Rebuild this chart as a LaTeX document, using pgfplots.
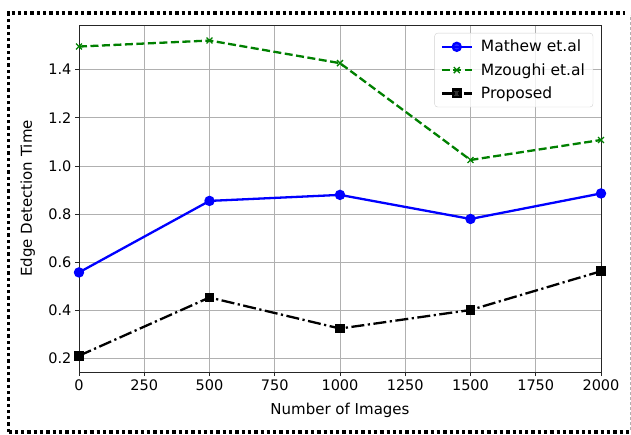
\documentclass[border=0pt]{standalone}
\usepackage{fontspec}
\setmainfont{DejaVu Sans}
\usepackage{pgfplots}
\pgfplotsset{compat=1.18}
\definecolor{mplblue}{RGB}{0,0,255}
\definecolor{mplgreen}{RGB}{0,128,0}
\definecolor{gridgray}{RGB}{176,176,176}
\begin{document}
\begin{tikzpicture}
\useasboundingbox (0pt,0pt) rectangle (631pt,434pt);
\draw[line width=3.3pt, dash pattern=on 3.3pt off 3pt] (8.5pt,2pt) -- (8.5pt,421pt) -- (625pt,421pt);
\draw[line width=3.3pt, dash pattern=on 3.3pt off 3pt] (8.5pt,2pt) -- (631pt,2pt);
\draw[gray!60, line width=0.8pt, dash pattern=on 3pt off 2pt] (630pt,4pt) -- (630pt,419pt);
\begin{axis}[
  at={(79pt,62pt)}, anchor=south west,
  scale only axis, width=522pt, height=347pt,
  xmin=0, xmax=2000, ymin=0.1445, ymax=1.5855,
  xtick={0,250,...,2000},
  ytick={0.2,0.4,...,1.41},
  /pgf/number format/assume math mode=true,
  x tick label style={/pgf/number format/.cd, set thousands separator={}, fixed},
  y tick label style={/pgf/number format/.cd, fixed, fixed zerofill, precision=1},
  tick label style={font=\fontsize{14.5}{16}\selectfont},
  grid=major,
  major grid style={gridgray, line width=0.8pt},
  axis line style={black!85, line width=0.9pt},
  tick style={black!85, line width=0.9pt},
  tick align=outside, major tick length=4pt,
  xtick pos=bottom, ytick pos=left,
  xlabel={Number of Images},
  ylabel={Edge Detection Time},
  every axis x label/.style={at={(axis description cs:0.5,-0.11)}, anchor=center, font=\fontsize{15}{17}\selectfont},
  every axis y label/.style={at={(axis description cs:-0.098,0.5)}, rotate=90, anchor=center, font=\fontsize{15}{17}\selectfont},
  legend style={at={(axis description cs:0.985,0.977)}, anchor=north east,
    draw=gray!35, rounded corners=3pt, fill=white, fill opacity=0.8, text opacity=1,
    font=\fontsize{15.5}{17}\selectfont, row sep=6pt, inner xsep=6pt, inner ysep=5pt,
    /tikz/every odd column/.append style={column sep=6pt}},
  legend cell align=left,
  legend image code/.code={\draw[mark repeat=2,mark phase=2,#1] plot coordinates {(0pt,0pt) (15pt,0pt) (30pt,0pt)};},
]
\addplot[mplblue, line width=2.3pt, mark=*, mark size=4pt, mark options={solid}]
  coordinates {(0,0.558) (500,0.855) (1000,0.880) (1500,0.780) (2000,0.886)};
\addlegendentry{Mathew et.al}
\addplot[mplgreen, line width=2.3pt, dash pattern=on 8pt off 3.5pt, mark=x, mark size=4.2pt, mark options={solid, line width=1.3pt}]
  coordinates {(0,1.496) (500,1.521) (1000,1.427) (1500,1.025) (2000,1.108)};
\addlegendentry{Mzoughi et.al}
\addplot[black, line width=2.3pt, dash pattern=on 13pt off 3.5pt on 2.2pt off 3.5pt, mark=square*, mark size=3.8pt, mark options={solid}]
  coordinates {(0,0.212) (500,0.454) (1000,0.325) (1500,0.402) (2000,0.563)};
\addlegendentry{Proposed}
\end{axis}
\end{tikzpicture}
\end{document}
